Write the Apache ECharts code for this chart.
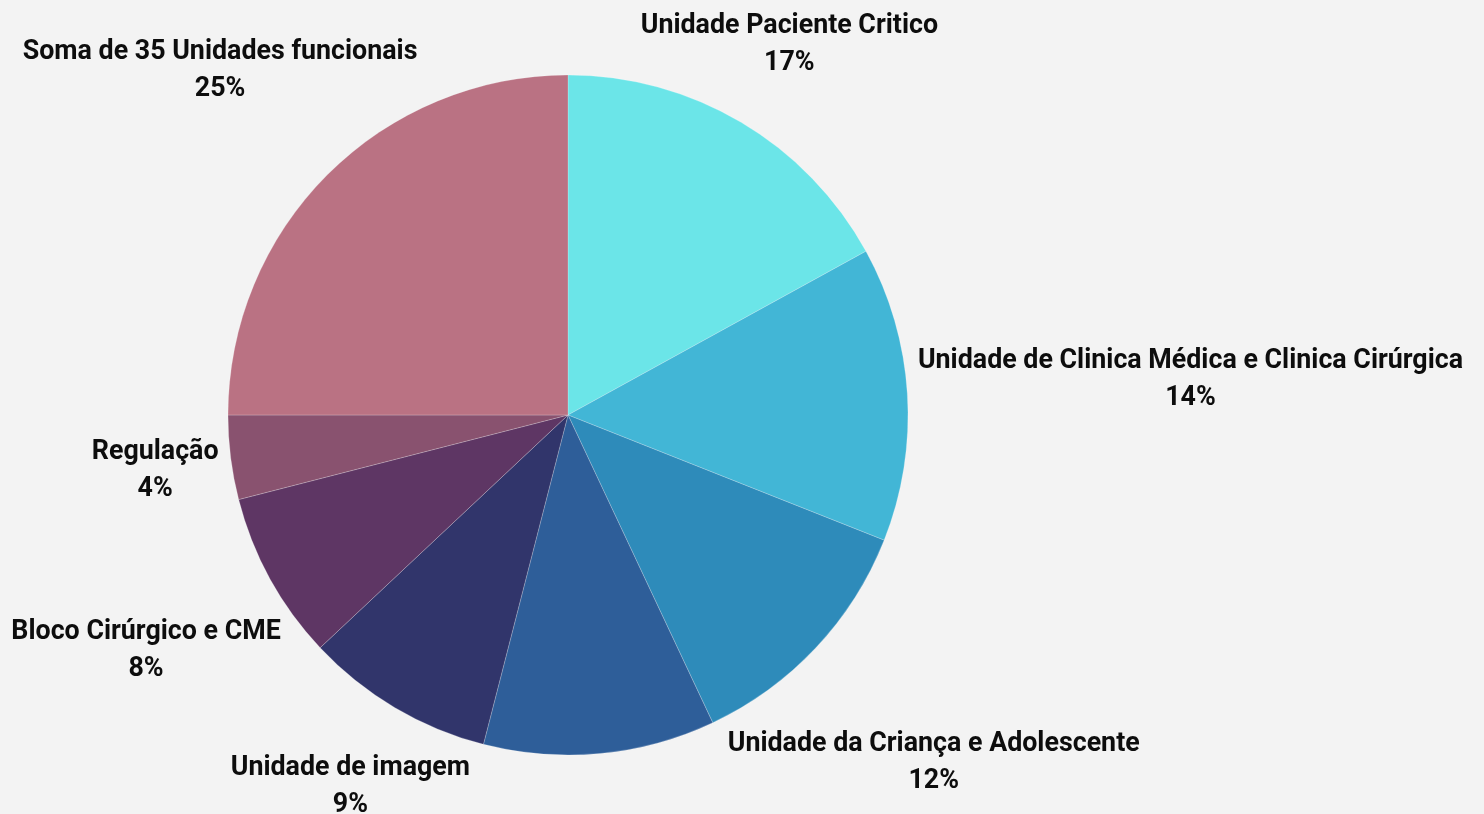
<!DOCTYPE html>
<html>
<head>
<meta charset="utf-8">
<script src="https://cdn.jsdelivr.net/npm/echarts@6/dist/echarts.min.js"></script>
<style>
  html, body { margin: 0; padding: 0; background: #f3f3f3; }
  #chart { width: 1484px; height: 814px; }
</style>
</head>
<body>
<div id="chart"></div>
<script>
// ---- data ----
const categories = [
  'Unidade Paciente Critico',
  'Unidade de Clinica Médica e Clinica Cirúrgica',
  'Unidade da Criança e Adolescente',
  'Outras unidades',
  'Unidade de imagem',
  'Bloco Cirúrgico e CME',
  'Regulação',
  'Soma de 35 Unidades funcionais'
];
const values = [17, 14, 12, 11, 9, 8, 4, 25];
const hiddenLabels = ['Outras unidades'];

// ---- style ----
const colors = ['#6be5e8', '#42b6d6', '#2e8bba', '#2e5e99', '#31356b', '#5e3664', '#89526f', '#ba7283'];
const CX = 568, CY = 415, R = 340, LABEL_DIST = 350, LABEL_SHIFT_Y = 4, LABEL_PAD_Y = 5;

const total = values.reduce((a, b) => a + b, 0);
function midAngle(i) {
  let cum = 0;
  for (let k = 0; k < i; k++) cum += values[k];
  return (cum + values[i] / 2) / total * Math.PI * 2;
}
function boxDist(r, a, hw, hh) {
  const x = Math.abs(r * Math.sin(a)), y = Math.abs(r * Math.cos(a));
  const dx = Math.max(x - hw, 0), dy = Math.max(y - hh, 0);
  return Math.sqrt(dx * dx + dy * dy);
}

const chart = echarts.init(document.getElementById('chart'), null, { renderer: 'canvas' });
chart.setOption({
  backgroundColor: '#f3f3f3',
  animation: false,
  series: [{
    type: 'pie',
    center: [CX, CY],
    radius: R,
    startAngle: 90,
    clockwise: true,
    avoidLabelOverlap: false,
    itemStyle: { borderColor: 'rgba(255,255,255,0.35)', borderWidth: 0.6 },
    label: {
      show: true,
      position: 'outside',
      formatter: p => p.name + '\n' + Math.round(p.percent) + '%',
      fontFamily: 'Roboto',
      fontWeight: 'bold',
      fontSize: 26.8,
      lineHeight: 37,
      color: '#0d0d0d',
      align: 'center'
    },
    labelLine: { show: false },
    labelLayout: function (p) {
      const a = midAngle(p.dataIndex);
      const hw = p.labelRect.width / 2, hh = p.labelRect.height / 2 - LABEL_PAD_Y;
      let lo = 0, hi = 3000;
      for (let it = 0; it < 60; it++) {
        const mid = (lo + hi) / 2;
        if (boxDist(mid, a, hw, hh) < LABEL_DIST) lo = mid; else hi = mid;
      }
      return {
        x: CX + hi * Math.sin(a),
        y: CY - hi * Math.cos(a) + LABEL_SHIFT_Y,
        align: 'center',
        verticalAlign: 'middle'
      };
    },
    data: categories.map((name, i) => ({
      name: name,
      value: values[i],
      itemStyle: { color: colors[i] },
      label: { show: hiddenLabels.indexOf(name) < 0 }
    }))
  }]
});
</script>
</body>
</html>
